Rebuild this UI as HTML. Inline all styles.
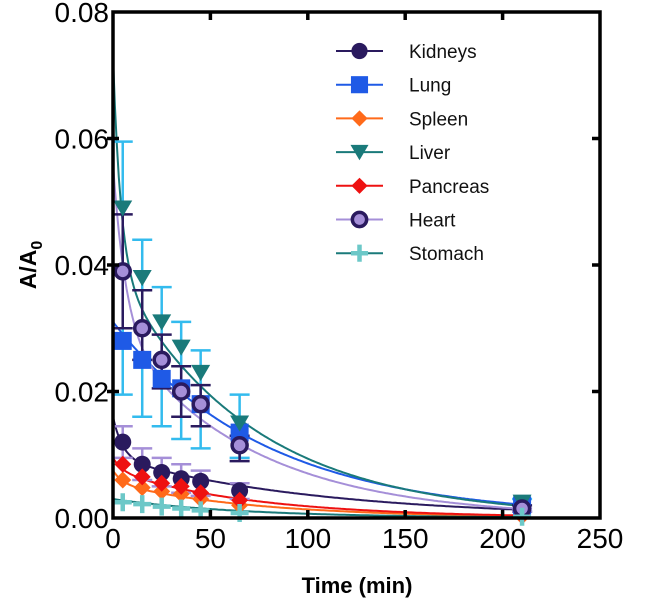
<!DOCTYPE html>
<html><head><meta charset="utf-8"><style>
body{margin:0;background:#fff}
svg{display:block;font-family:"Liberation Sans",Arial,sans-serif}
</style></head><body>
<svg id="chart" width="645" height="606" viewBox="0 0 645 606" xmlns="http://www.w3.org/2000/svg"></svg>
<script>
const times=[5,15,25,35,45,65,210];
const names=["Kidneys","Lung","Spleen","Liver","Pancreas","Heart","Stomach"];
const kidneys=[0.012,0.0085,0.0072,0.0062,0.0058,0.0043,0.0012];
const lung=[0.028,0.025,0.022,0.0205,0.018,0.0135,0.002];
const spleen=[0.006,0.0048,0.0042,0.0038,0.003,0.002,0.0003];
const liver=[0.049,0.038,0.031,0.027,0.023,0.015,0.0025];
const pancreas=[0.0085,0.0065,0.0055,0.005,0.004,0.0028,0.0005];
const heart=[0.039,0.030,0.025,0.020,0.018,0.0115,0.0015];
const stomach=[0.0025,0.0022,0.0018,0.0015,0.0012,0.0008,0.0002];
const lungHi=[0.0595,0.044,0.0365,0.031,0.0265,0.0195,0.003];
const lungLo=[0.0195,0.016,0.0145,0.0125,0.011,0.0095,0.001];
const heartHi=[0.048,0.036,0.029,0.024,0.021,0.013,0.002];
const heartLo=[0.030,0.025,0.0205,0.016,0.0145,0.009,0.001];
const kidHi=[0.0145,0.011,0.0095,0.0085,0.0075,0.0055,0.0015];
const kidLo=[0.0095,0.006,0.005,0.004,0.0035,0.003,0.001];
// fit parameters [A1,k1,A2,k2]
const fitKidneys=[0.0065,0.2,0.0095,0.0095];
const fitLung=[0,0,0.031,0.0128];
const fitSpleen=[0.002,0.2,0.0055,0.014];
const fitLiver=[0.033,0.25,0.04,0.0145];
const fitPancreas=[0.002,0.2,0.0075,0.014];
const fitHeart=[0.026,0.15,0.03,0.0145];
const fitStomach=[0,0,0.003,0.015];
const xTicks=[0,50,100,150,200,250];
const yTicks=[0,0.02,0.04,0.06,0.08];

const NS="http://www.w3.org/2000/svg";
const svg=document.getElementById('chart');
const X0=113,X1=600,Y0=518,Y1=12;
const xs=v=>X0+(v/250)*(X1-X0);
const ys=v=>Y0-(v/0.08)*(Y0-Y1);
function el(t,a,p){const e=document.createElementNS(NS,t);for(const k in a)e.setAttribute(k,a[k]);(p||svg).appendChild(e);return e;}

const plot=el('g',{});



const series=[
 {n:"kidneys",d:kidneys,f:fitKidneys,c:"#2a1a5e",lc:"#2a1a5e",m:"circle",fill:"#2a1a5e"},
 {n:"lung",d:lung,f:fitLung,c:"#1f5ae6",lc:"#1f5ae6",m:"square",fill:"#1f5ae6"},
 {n:"spleen",d:spleen,f:fitSpleen,c:"#ff6a1a",lc:"#ff6a1a",m:"diamond",fill:"#ff6a1a"},
 {n:"liver",d:liver,f:fitLiver,c:"#1a7a7a",lc:"#1a7a7a",m:"tri",fill:"#1a7a7a"},
 {n:"pancreas",d:pancreas,f:fitPancreas,c:"#ee1111",lc:"#ee1111",m:"diamond",fill:"#ee1111"},
 {n:"heart",d:heart,f:fitHeart,c:"#2a1a5e",lc:"#a58fd8",m:"ring",fill:"#a58fd8"},
 {n:"stomach",d:stomach,f:fitStomach,c:"#6cc8c8",lc:"#1a7a7a",m:"plus",fill:"#6cc8c8"}
];
const errs=[
 {n:"lung",hi:lungHi,lo:lungLo,c:"#33bbee"},
 {n:"heart",hi:heartHi,lo:heartLo,c:"#2a1a5e"},
 {n:"kidneys",hi:kidHi,lo:kidLo,c:"#a58fd8"}
];
function marker(s,cx,cy,g,sc){
 sc=sc||1;let e;
 if(s.m==="circle"){e=el('circle',{cx,cy,r:8.5*sc,fill:s.fill},g);}
 else if(s.m==="ring"){e=el('circle',{cx,cy,r:7.5*sc,fill:s.fill,stroke:s.c,'stroke-width':3.5},g);}
 else if(s.m==="square"){e=el('rect',{x:cx-9*sc,y:cy-9*sc,width:18*sc,height:18*sc,fill:s.fill},g);}
 else if(s.m==="diamond"){const r=8.5*sc;e=el('polygon',{points:`${cx},${cy-r} ${cx+r},${cy} ${cx},${cy+r} ${cx-r},${cy}`,fill:s.fill},g);}
 else if(s.m==="tri"){const r=9.5*sc;e=el('polygon',{points:`${cx-r},${cy-r*0.8} ${cx+r},${cy-r*0.8} ${cx},${cy+r*0.9}`,fill:s.fill},g);}
 else {e=el('path',{d:`M${cx-9*sc},${cy}H${cx+9*sc}M${cx},${cy-9*sc}V${cy+9*sc}`,stroke:s.fill,'stroke-width':4.5},g);}
 return e;
}
series.forEach(s=>{
 let d="";
 for(let t=0;t<=210;t+=1){const v=s.f[0]*Math.exp(-s.f[1]*t)+s.f[2]*Math.exp(-s.f[3]*t);d+=(t?"L":"M")+xs(t).toFixed(1)+","+ys(Math.min(v,0.08)).toFixed(1);}
 const p=el('path',{d,fill:"none",stroke:s.lc,'stroke-width':2},plot);
 
 
});
errs.forEach(e=>{
 const g=el('g',{},plot);
 
 
 times.forEach((t,i)=>{
  const x=xs(t);
  el('path',{d:`M${x},${ys(e.lo[i])}V${ys(e.hi[i])}M${x-10},${ys(e.lo[i])}H${x+10}M${x-10},${ys(e.hi[i])}H${x+10}`,stroke:e.c,'stroke-width':2.5,fill:"none"},g);
 });
});
series.forEach(s=>{
 const g=el('g',{},plot);
 
 
 s.d.forEach((v,i)=>{
  const m=marker(s,xs(times[i]),ys(v),g);
  
  
 });
});
const fr=el('rect',{x:X0,y:Y1,width:X1-X0,height:Y0-Y1,fill:"none",stroke:"#000",'stroke-width':3.5});


const xg=el('g',{});


xTicks.forEach(t=>{
 const x=xs(t);
 if(t>0&&t<250){el('path',{d:`M${x},${Y0}v-8M${x},${Y1}v8`,stroke:"#000",'stroke-width':3.5},xg);}
 const tx=el('text',{x,y:Y0+30,'text-anchor':"middle",'font-size':28,fill:"#000"},xg);tx.textContent=t;
 
 
});
const yg=el('g',{});


yTicks.forEach(t=>{
 const y=ys(t);
 if(t>0&&t<0.08){el('path',{d:`M${X0-6},${y}h12M${X1},${y}h-8`,stroke:"#000",'stroke-width':3.5},yg);}
 const tx=el('text',{x:X0-4,y:y+10,'text-anchor':"end",'font-size':28,fill:"#000"},yg);tx.textContent=t.toFixed(2);
 
 
});
const xt=el('text',{x:357,y:593,'text-anchor':"middle",'font-size':22,'font-weight':"bold"});
xt.textContent="Time (min)";


const yt=el('text',{transform:"translate(36,265) rotate(-90)",'text-anchor':"middle",'font-size':23,'font-weight':"bold"});
yt.innerHTML='A/A<tspan font-size="16" dy="6">0</tspan>';


const lg=el('g',{});


series.forEach((s,i)=>{
 const y=51+i*33.7;
 const g=el('g',{},lg);
 
 
 el('path',{d:`M336,${y}H383`,stroke:s.lc,'stroke-width':2},g);
 marker(s,359.5,y,g,0.95);
 const tx=el('text',{x:409,y:y+7,'font-size':19,fill:"#111"},g);tx.textContent=names[i];
});
</script>
</body></html>
